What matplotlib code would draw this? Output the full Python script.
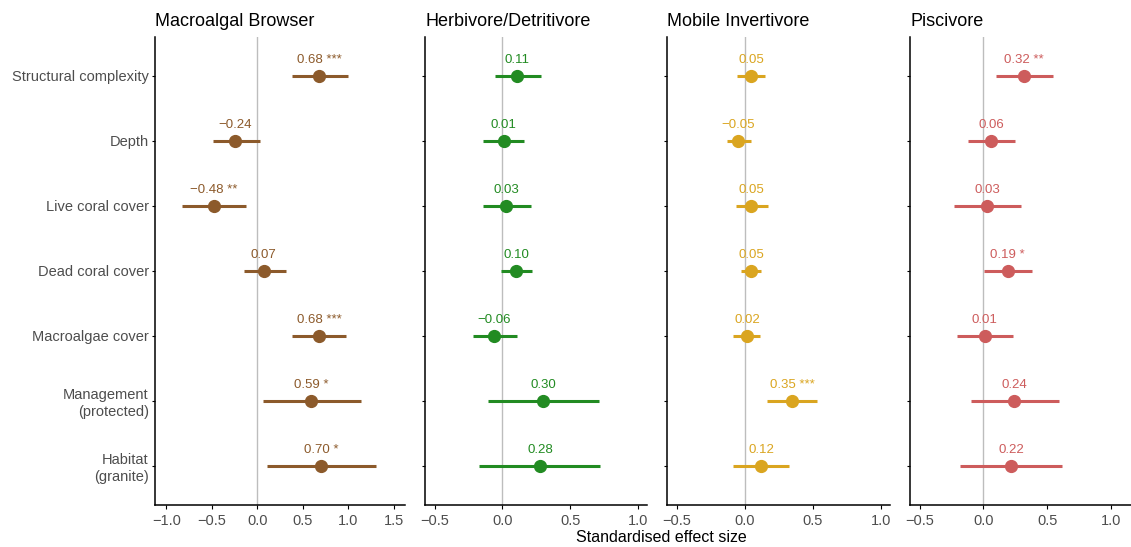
import matplotlib
matplotlib.use("Agg")
import matplotlib.pyplot as plt
import numpy as np

plt.rcParams['font.family'] = ['Liberation Sans', 'DejaVu Sans']

predictors = ["Structural complexity", "Depth", "Live coral cover", "Dead coral cover",
              "Macroalgae cover", "Management\n(protected)", "Habitat\n(granite)"]

groups = ["Macroalgal Browser", "Herbivore/Detritivore", "Mobile Invertivore", "Piscivore"]
colours = ["#8c5a2b", "#228b22", "#daa520", "#cd5c5c"]

browser_est = [0.68, -0.24, -0.48, 0.07, 0.68, 0.59, 0.70]
browser_lo = [0.38, -0.49, -0.83, -0.15, 0.385, 0.066, 0.11]
browser_hi = [1.00, 0.026, -0.124, 0.315, 0.98, 1.136, 1.31]
browser_sig = ["***", "", "**", "", "***", "*", "*"]

herb_est = [0.11, 0.01, 0.03, 0.10, -0.06, 0.30, 0.28]
herb_lo = [-0.054, -0.144, -0.14, -0.01, -0.213, -0.107, -0.169]
herb_hi = [0.285, 0.162, 0.211, 0.22, 0.106, 0.713, 0.723]
herb_sig = ["", "", "", "", "", "", ""]

invert_est = [0.05, -0.05, 0.05, 0.05, 0.02, 0.35, 0.12]
invert_lo = [-0.054, -0.13, -0.061, -0.03, -0.086, 0.167, -0.083]
invert_hi = [0.152, 0.044, 0.171, 0.123, 0.115, 0.534, 0.329]
invert_sig = ["", "", "", "", "", "***", ""]

pisc_est = [0.32, 0.06, 0.03, 0.19, 0.01, 0.24, 0.22]
pisc_lo = [0.10, -0.118, -0.23, 0.005, -0.209, -0.099, -0.18]
pisc_hi = [0.544, 0.249, 0.296, 0.379, 0.231, 0.594, 0.62]
pisc_sig = ["**", "", "", "*", "", "", ""]

est = [browser_est, herb_est, invert_est, pisc_est]
lo = [browser_lo, herb_lo, invert_lo, pisc_lo]
hi = [browser_hi, herb_hi, invert_hi, pisc_hi]
sig = [browser_sig, herb_sig, invert_sig, pisc_sig]

xlims = [(-1.124, 1.623), (-0.57, 1.066), (-0.571, 1.066), (-0.575, 1.158)]
xticks = [[-1.0, -0.5, 0.0, 0.5, 1.0, 1.5], [-0.5, 0.0, 0.5, 1.0],
          [-0.5, 0.0, 0.5, 1.0], [-0.5, 0.0, 0.5, 1.0]]
lefts = [0.137, 0.3758, 0.5897, 0.8046]
widths = [0.221, 0.1963, 0.197, 0.1954]

fig = plt.figure(figsize=(11.31, 5.47), dpi=100)

ypos = np.arange(len(predictors), 0, -1)

for i in range(4):
    ax = fig.add_axes([lefts[i], 0.0768, widths[i], 0.8556])
    ax.axvline(0, color="#bdbdbd", lw=1, zorder=0)
    ax.hlines(ypos, lo[i], hi[i], color=colours[i], lw=2.2)
    ax.plot(est[i], ypos, "o", color=colours[i], ms=8.5)
    for y, e, s in zip(ypos, est[i], sig[i]):
        lab = f"{e:.2f}".replace("-", "\u2212")
        if s:
            lab = lab + " " + s
        ax.text(e, y + 0.16, lab, color=colours[i], fontsize=9.5, ha="center", va="bottom")
    ax.set_xlim(*xlims[i])
    ax.set_ylim(0.4, 7.6)
    ax.set_xticks(xticks[i])
    ax.set_xticklabels([f"{t:.1f}".replace("-", "\u2212") for t in xticks[i]])
    ax.set_yticks(ypos)
    if i == 0:
        ax.set_yticklabels(predictors, fontsize=10.5, color="#4d4d4d")
    else:
        ax.set_yticklabels([])
    ax.tick_params(axis="x", labelsize=10.5, labelcolor="#4d4d4d", length=3)
    ax.tick_params(axis="y", length=2.5, pad=2)
    for sp in ["top", "right"]:
        ax.spines[sp].set_visible(False)
    for sp in ["left", "bottom"]:
        ax.spines[sp].set_linewidth(1.1)
    ax.set_title(groups[i], loc="left", fontsize=13, pad=8)

fig.text(0.585, 0.018, "Standardised effect size", ha="center", va="center", fontsize=11.5)

fig.savefig("out.png", dpi=100)
